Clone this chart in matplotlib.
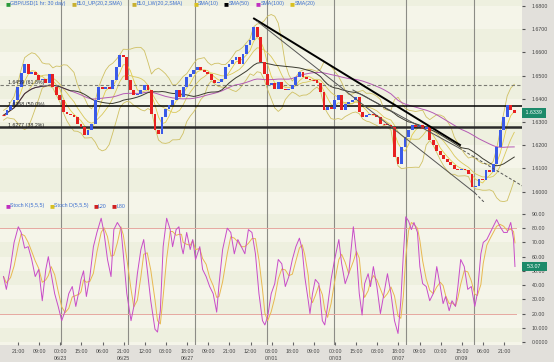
import numpy as np
import pandas as pd
import matplotlib
matplotlib.use("Agg")
import matplotlib.pyplot as plt

plt.rcParams['font.family'] = ['Liberation Sans', 'DejaVu Sans']

# GBP/USD hourly, one close read every 2.5 bars
closes = [1.6329, 1.6350, 1.6372, 1.6394, 1.6451, 1.6510, 1.6550, 1.6509, 1.6516, 1.6502,
          1.6480, 1.6487, 1.6466, 1.6509, 1.6451, 1.6415, 1.6394, 1.6343, 1.6336, 1.6329,
          1.6322, 1.6293, 1.6278, 1.6242, 1.6264, 1.6293, 1.6394, 1.6451, 1.6444, 1.6451,
          1.6444, 1.6480, 1.6538, 1.6588, 1.6581, 1.6480, 1.6437, 1.6415, 1.6422, 1.6437,
          1.6458, 1.6437, 1.6336, 1.6264, 1.6249, 1.6322, 1.6358, 1.6372, 1.6394, 1.6437,
          1.6408, 1.6451, 1.6494, 1.6509, 1.6523, 1.6538, 1.6523, 1.6516, 1.6509, 1.6480,
          1.6466, 1.6473, 1.6487, 1.6538, 1.6552, 1.6567, 1.6581, 1.6552, 1.6595, 1.6631,
          1.6653, 1.6711, 1.6667, 1.6559, 1.6509, 1.6458, 1.6466, 1.6444, 1.6473, 1.6444,
          1.6437, 1.6444, 1.6458, 1.6494, 1.6516, 1.6494, 1.6487, 1.6480, 1.6480, 1.6466,
          1.6430, 1.6350, 1.6365, 1.6358, 1.6394, 1.6415, 1.6350, 1.6379, 1.6386, 1.6394,
          1.6408, 1.6343, 1.6322, 1.6329, 1.6336, 1.6329, 1.6322, 1.6293, 1.6293, 1.6286,
          1.6278, 1.6149, 1.6120, 1.6192, 1.6235, 1.6264, 1.6286, 1.6278, 1.6286, 1.6271,
          1.6278, 1.6221, 1.6199, 1.6177, 1.6156, 1.6142, 1.6127, 1.6113, 1.6098, 1.6091,
          1.6098, 1.6091, 1.6077, 1.6019, 1.6026, 1.6055, 1.6048, 1.6091, 1.6084, 1.6120,
          1.6192, 1.6264, 1.6322, 1.6372, 1.6350, 1.6339]
bar_step = 2.5

# Stochastic %K, (bar, value)
k_bars = [2.5, 4.5, 7.5, 10, 13, 15, 17.5, 20, 22.5, 25, 27.5, 30, 32.5, 34.3, 36.3, 38.8, 41.3,
          43.8, 46.3, 48.8, 51.3, 53.8, 56.3, 57.5, 59.3, 61.3, 63.8, 66.3, 68.8, 71.8, 73.8,
          76.3, 78.8, 80.8, 83.3, 85.8, 87.5, 90, 93, 95, 97.5, 100, 102, 104.5, 107, 110,
          111.8, 113.8, 115.8, 118.3, 120.8, 122.5, 125, 127, 128.8, 130, 132.5, 135, 136.8,
          138.8, 141.8, 143.8, 146.3, 148.8, 151.3, 153.8, 155.5, 158, 161.3, 163.8, 166.3,
          168.8, 171.3, 173.8, 176.3, 178.8, 181.3, 183.8, 186.3, 188, 190, 192.5, 195, 197.5,
          200, 202.5, 205, 207.5, 210, 212.5, 214.5, 216.3, 218.8, 220, 221.8, 223.8, 226.3,
          228.8, 230.5, 232.5, 235, 237.5, 240.5, 242.5, 245, 247.5, 250.8, 253, 255, 257,
          258.8, 261.3, 263, 265, 267.5, 270, 272.5, 275, 277.5, 280, 282.5, 284.5, 286.3,
          288, 290, 292, 293.8, 296.3, 298, 300, 302.5, 305, 307.5, 310, 312.5, 314.5, 316.3,
          318.8, 320.8, 323.3, 325, 327, 329.5, 332, 334.5, 337, 338.8, 341.3, 343, 345.5,
          348, 350, 352.5, 355, 357.5, 360, 362.5, 364.5, 365.5]
k_vals = [46, 37, 53, 70, 81, 77, 66, 67, 58, 46, 51, 29, 51, 60, 48, 34, 25,
          15, 22, 34, 39, 25, 37, 44, 50, 32, 46, 67, 77, 87, 77,
          58, 46, 79, 84, 80, 62, 34, 15, 25, 48, 65, 72, 51, 29, 9,
          7, 22, 67, 87, 79, 67, 79, 81, 67, 62, 77, 65, 72,
          58, 67, 51, 46, 39, 34, 21, 41, 65, 80, 77, 62,
          72, 67, 62, 79, 77, 62, 34, 15, 12, 18, 34, 41, 58,
          55, 39, 46, 58, 67, 73, 65, 46, 29, 20, 34, 44, 41,
          15, 12, 25, 44, 58, 72, 55, 41, 48, 81, 62, 34, 19,
          41, 48, 39, 53, 39, 20, 34, 48, 34, 15, 6, 29, 62,
          88, 85, 79, 84, 77, 53, 41, 39, 29, 34, 53, 39, 27, 32,
          22, 29, 25, 39, 58, 53, 37, 39, 25, 34, 62, 70, 72,
          77, 81, 86, 81, 77, 77, 84, 72, 53.07]

# fibonacci levels and trend lines
fib_levels = [1.6459, 1.6368, 1.6277]
fib_labels = ["1.6459 (61.8%)", "1.6368 (50.0%)", "1.6277 (38.2%)"]
trend_main_x = [180.3, 326.5]
trend_main_y = [1.6746, 1.6201]
trend_low_x = [182.4, 337.1, 345.6]
trend_low_y = [1.6735, 1.5994, 1.5942]
trend_up_x = [250.5, 325.8, 373.3]
trend_up_y = [1.6438, 1.6188, 1.6015]

price_ticks = [1.60, 1.61, 1.62, 1.63, 1.64, 1.65, 1.66, 1.67, 1.68]
stoch_ticks = [0, 10, 20, 30, 40, 50, 60, 70, 80, 90]
stoch_tick_labels = ['0.0000', '10.000', '20.00', '30.00', '40.00', '50.00',
                     '60.00', '70.00', '80.00', '90.00']
day_lines = [43.3, 90.8, 138.4, 189.5, 237.0, 288.1, 336.4]
tick_labels = ["21:00", "09:00", "00:00", "15:00", "06:00", "21:00", "12:00", "03:00",
               "18:00", "09:00", "21:00", "12:00", "03:00", "18:00", "09:00", "00:00",
               "15:00", "03:00", "18:00", "09:00", "00:00", "15:00", "06:00", "21:00"]
date_labels = {2: "06/23", 5: "06/25", 8: "06/27", 12: "07/01", 15: "07/03", 18: "07/07", 21: "07/09"}

close = pd.Series(closes)
bars = np.arange(1, len(closes) + 1) * bar_step
opens = close.shift(1).fillna(close.iloc[0])
sma10 = close.rolling(4, min_periods=1).mean()
sma20 = close.rolling(8, min_periods=1).mean()
std20 = close.rolling(8, min_periods=2).std(ddof=0).bfill()
sma50 = close.rolling(20, min_periods=1).mean()
sma100 = close.rolling(40, min_periods=1).mean()
k = pd.Series(k_vals)
d = k.rolling(3, min_periods=1).mean()

fig = plt.figure(figsize=(5.54, 3.62), dpi=100, facecolor='#e2e0db')
ax1 = fig.add_axes([0, 1 - 202 / 362, 522 / 554, 202 / 362])
ax2 = fig.add_axes([0, 1 - 345 / 362, 522 / 554, 143 / 362])
fs = 3.8

ax1.set_xlim(0, 370.5)
ax1.set_ylim(1.5955, 1.6826)
for i in range(-1, 9):
    lv = 1.60 + 0.01 * i
    ax1.axhspan(lv, lv + 0.01, color='#f5f5e9' if i % 2 else '#eef0df', lw=0, zorder=0)
ax2.set_xlim(0, 370.5)
ax2.set_ylim(-2.1, 98.4)
for i in range(-1, 10):
    ax2.axhspan(i * 10, i * 10 + 10, color='#f5f5e9' if i % 2 else '#eef0df', lw=0, zorder=0)

for ax in (ax1, ax2):
    for s in ax.spines.values():
        s.set_visible(False)
    for x in day_lines:
        ax.axvline(x, color='#8c8c86', lw=0.8, zorder=1)

# bollinger and moving averages
ax1.plot(bars, sma20 + 2 * std20, color='#cfc063', lw=0.6, zorder=2)
ax1.plot(bars, sma20 - 2 * std20, color='#cfc063', lw=0.6, zorder=2)
ax1.plot(bars, sma10, color='#e3cc4a', lw=0.6, zorder=2)
ax1.plot(bars, sma20, color='#d9c85a', lw=0.6, zorder=2)
ax1.plot(bars, sma100, color='#b45ab4', lw=0.7, zorder=2)
ax1.plot(bars, sma50, color='#3a3a30', lw=0.7, zorder=2)

# fib levels
ax1.axhline(fib_levels[0], color='#7a7a72', lw=0.8, ls=(0, (3, 2)), zorder=3)
ax1.axhline(fib_levels[1], color='black', lw=1.1, zorder=3)
ax1.axhline(fib_levels[2], color='#2a2a2a', lw=1.8, zorder=3)
for lv, lab in zip(fib_levels, fib_labels):
    ax1.text(6, lv + 0.0003, lab, fontsize=fs, color='#222', zorder=6)

# candles
up = close >= opens
ax1.bar(bars, close - opens, bottom=opens, width=2.0,
        color=np.where(up, '#3a5ae8', '#e82020'), lw=0, zorder=4)
flat = (close - opens).abs() < 0.0002
ax1.hlines(close[flat], bars[flat] - 1, bars[flat] + 1, color='#e82020', lw=0.8, zorder=4)

# trend lines
ax1.plot(trend_main_x, trend_main_y, color='black', lw=1.4, zorder=5)
ax1.plot(trend_low_x[:2], trend_low_y[:2], color='#555', lw=0.7, zorder=5)
ax1.plot(trend_low_x[1:], trend_low_y[1:], color='#555', lw=0.7, ls=(0, (3, 2)), zorder=5)
ax1.plot(trend_up_x[:2], trend_up_y[:2], color='#555', lw=0.7, zorder=5)
ax1.plot(trend_up_x[1:], trend_up_y[1:], color='#555', lw=0.7, ls=(0, (3, 2)), zorder=5)

ax1.yaxis.tick_right()
ax1.set_yticks(price_ticks)
ax1.set_yticklabels(['%.4f' % v for v in price_ticks])
ax1.tick_params(axis='y', labelsize=fs, length=2, pad=5, colors='#555', labelcolor='#444')
ax1.set_xticks([])
ax1.text(1.004, closes[-1], ' %.4f ' % closes[-1], transform=ax1.get_yaxis_transform(),
         fontsize=fs, color='white', va='center', ha='left',
         bbox=dict(boxstyle='square,pad=0.4', fc='#1d8a6a', ec='none'))

# stochastic
ax2.axhline(20, color='#e6a8a0', lw=0.7, xmax=516 / 522, zorder=2)
ax2.axhline(80, color='#e6a8a0', lw=0.7, xmax=516 / 522, zorder=2)
ax2.plot(k_bars, d, color='#e8b850', lw=0.7, zorder=3)
ax2.plot(k_bars, k, color='#c84cc8', lw=0.7, zorder=4)
ax2.yaxis.tick_right()
ax2.set_yticks(stoch_ticks)
ax2.set_yticklabels(stoch_tick_labels)
ax2.tick_params(axis='y', labelsize=fs, length=2, pad=5, colors='#555', labelcolor='#444')
ax2.text(1.004, k_vals[-1], '  %.2f   ' % k_vals[-1], transform=ax2.get_yaxis_transform(),
         fontsize=fs, color='white', va='center', ha='left',
         bbox=dict(boxstyle='square,pad=0.4', fc='#1d8a6a', ec='none'))

xt = 12.8 + 15 * np.arange(len(tick_labels))
ax2.set_xticks(xt)
ax2.set_xticklabels([t + ('\n' + date_labels[i] if i in date_labels else '\n')
                     for i, t in enumerate(tick_labels)], linespacing=1.5)
ax2.tick_params(axis='x', labelsize=fs, length=2, direction='in', pad=3,
                colors='#666', labelcolor='#444')

# legends
def legend(ax, items, y):
    for lab, col, px in items:
        ax.text(px / 522, y, '\u25a0', color=col, fontsize=fs, transform=ax.transAxes,
                va='center', family='DejaVu Sans')
        ax.text((px + 5) / 522, y, lab, color='#3d6fd0', fontsize=fs, transform=ax.transAxes,
                va='center')

legend(ax1, [("GBP/USD(1 hr: 30 day)", '#2a9a3a', 5), ("BL0_UP(20,2,SMA)", '#c8b030', 72),
             ("BL0_LW(20,2,SMA)", '#c8b030', 132), ("SMA(10)", '#d8c020', 193),
             ("SMA(50)", 'black', 224), ("SMA(100)", '#c030c0', 256),
             ("SMA(20)", '#d8c020', 290)], 1 - 4 / 202)
legend(ax2, [("Stoch K(5,5,5)", '#c030c0', 5), ("Stoch D(5,5,5)", '#d8c020', 49),
             ("L20", '#d02020', 93), ("L80", '#d02020', 112)], 1 - 4 / 143)

fig.savefig('out.png', dpi=100, facecolor=fig.get_facecolor())
